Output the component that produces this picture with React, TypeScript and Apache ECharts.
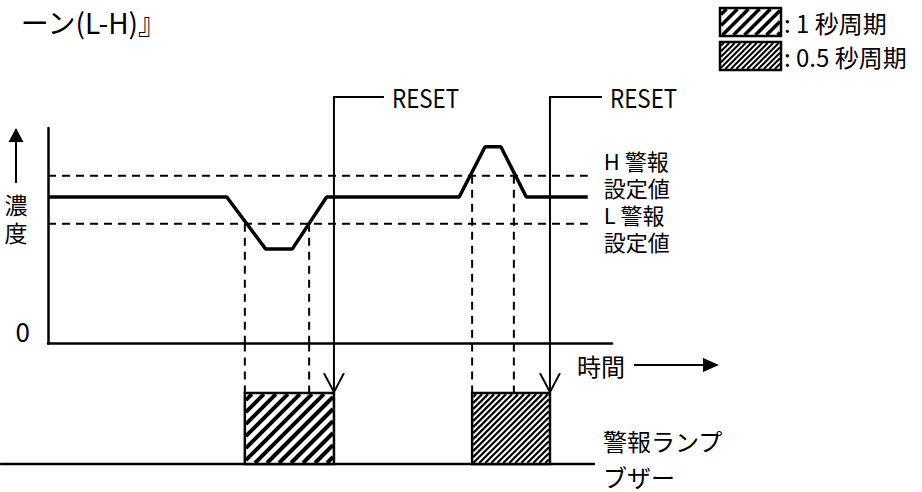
import React, { useEffect, useRef } from 'react';
import * as echarts from 'echarts';

const FONT = '"Noto Sans CJK JP", "Noto Sans", sans-serif';

// concentration trace (time units 0..100, concentration 0..100)
const traceTime = [0, 31.7, 38.6, 43.3, 49.4, 72.9, 77.5, 80.3, 84.8, 95.7];
const traceValue = [68, 68, 43.8, 43.8, 68, 68, 91.3, 91.3, 68, 68];

// alarm set points
const thresholdNames = ['H 警報\n設定値', 'L 警報\n設定値'];
const thresholdValues = [77.9, 55.6];
const thresholdEnd = 95.7;

// alarm events (first: L alarm, second: H alarm)
const alarmThreshold = [55.6, 77.9];
const alarmStart = [34.9, 75.2];
const alarmClear = [46.3, 82.6];
const resetTime = [50.7, 89.0];
const resetLevel = 114.4;
const lampOn = 1;
const lampLineStart = -8.5;
const lampLineEnd = 97.0;

const legendLabels = [': 1 秒周期', ': 0.5 秒周期'];

// styles (not data)
const hatchStep = [12, 6];
const hatchWidth = [4, 2.2];
const resetLeader = [50, 52];
const thresholdLabelShift = [-2, 4];

function hatchLines(x0: number, y0: number, x1: number, y1: number, step: number, lw: number) {
  const out: any[] = [];
  for (let c = x0 + y0 + step * 0.5; c < x1 + y1; c += step) {
    const xa = Math.max(x0, c - y1);
    const xb = Math.min(x1, c - y0);
    if (xb - xa > 0.3) {
      out.push({ type: 'line', shape: { x1: xa, y1: c - xa, x2: xb, y2: c - xb }, style: { stroke: '#000', lineWidth: lw } });
    }
  }
  return out;
}

function hatchBox(x: number, y: number, w: number, h: number, step: number, lw: number) {
  return [
    { type: 'rect', shape: { x, y, width: w, height: h }, style: { fill: '#fff' } },
    ...hatchLines(x + 1, y + 1, x + w - 1, y + h - 1, step, lw),
    { type: 'rect', shape: { x, y, width: w, height: h }, style: { fill: 'none', stroke: '#000', lineWidth: 2.5 } },
  ];
}

function buildOption(): any {
  const txt = (text: string, x: number, y: number, size: number, align = 'left', extra: any = {}) => ({
    type: 'text', x, y,
    style: { text, fill: '#000', fontSize: size, fontFamily: FONT, align, verticalAlign: 'middle', ...extra },
  });

  const graphic: any[] = [
    txt('ーン(L-H)』', 166, 22, 28, 'right'),
    { type: 'group', children: hatchBox(720, 8, 61, 28, 11, 3.5) },
    { type: 'group', children: hatchBox(720, 42, 61, 28, 5.5, 2) },
    txt(legendLabels[0], 784, 22, 24),
    txt(legendLabels[1], 784, 56, 24),
    { type: 'line', shape: { x1: 16, y1: 183, x2: 16, y2: 140 }, style: { stroke: '#000', lineWidth: 2 } },
    { type: 'polygon', shape: { points: [[8.5, 142], [16, 128], [23.5, 142]] }, style: { fill: '#000' } },
    txt('濃', 16, 204, 23, 'center'),
    txt('度', 16, 232, 23, 'center'),
    txt('時間', 577, 365, 24),
    { type: 'line', shape: { x1: 634, y1: 365, x2: 706, y2: 365 }, style: { stroke: '#000', lineWidth: 2 } },
    { type: 'polygon', shape: { points: [[703, 358], [719, 365], [703, 372]] }, style: { fill: '#000' } },
    txt('警報ランプ', 603, 440, 24),
    txt('ブザー', 603, 476, 24),
  ];

  const series: any[] = [];

  thresholdValues.forEach((v, i) => {
    series.push({
      type: 'line', xAxisIndex: 0, yAxisIndex: 0, silent: true, symbol: 'none',
      data: [[0, v], [thresholdEnd, v]],
      lineStyle: { color: '#000', width: 2, type: [8, 6] },
      endLabel: {
        show: true, formatter: thresholdNames[i], color: '#000', fontSize: 22, lineHeight: 27,
        fontFamily: FONT, distance: 16, offset: [0, thresholdLabelShift[i]],
      },
    });
  });

  series.push({
    type: 'line', xAxisIndex: 0, yAxisIndex: 0, silent: true, symbol: 'none',
    data: traceTime.map((t, i) => [t, traceValue[i]]),
    lineStyle: { color: '#000', width: 3.5 },
  });

  // vertical dashed guides (upper part)
  const guideData: number[][] = [];
  alarmStart.forEach((t, i) => { guideData.push([t, alarmThreshold[i]]); guideData.push([alarmClear[i], alarmThreshold[i]]); });
  series.push({
    type: 'custom', xAxisIndex: 0, yAxisIndex: 0, silent: true, clip: false,
    data: guideData,
    renderItem: (_p: any, api: any) => {
      const a = api.coord([api.value(0), api.value(1)]);
      const b = api.coord([api.value(0), 0]);
      return { type: 'line', shape: { x1: a[0], y1: a[1], x2: b[0], y2: b[1] }, style: { stroke: '#000', lineWidth: 2, lineDash: [8, 6] } };
    },
  });
  // vertical dashed guides (lower part)
  series.push({
    type: 'custom', xAxisIndex: 1, yAxisIndex: 1, silent: true, clip: false,
    data: guideData.map((d) => [d[0], lampOn]),
    renderItem: (_p: any, api: any) => {
      const a = api.coord([api.value(0), 1.7]);
      const b = api.coord([api.value(0), api.value(1)]);
      return { type: 'line', shape: { x1: a[0], y1: a[1], x2: b[0], y2: b[1] }, style: { stroke: '#000', lineWidth: 2, lineDash: [8, 6] } };
    },
  });

  // RESET (upper part)
  series.push({
    type: 'custom', xAxisIndex: 0, yAxisIndex: 0, silent: true, clip: false,
    data: resetTime.map((t, i) => [t, resetLevel, i]),
    renderItem: (_p: any, api: any) => {
      const i = api.value(2);
      const a = api.coord([api.value(0), api.value(1)]);
      const b = api.coord([api.value(0), 0]);
      const len = resetLeader[i];
      return {
        type: 'group',
        children: [
          { type: 'line', shape: { x1: a[0], y1: a[1], x2: b[0], y2: b[1] }, style: { stroke: '#000', lineWidth: 2 } },
          { type: 'line', shape: { x1: a[0] - 1, y1: a[1], x2: a[0] + len, y2: a[1] }, style: { stroke: '#000', lineWidth: 2 } },
          {
            type: 'text', x: a[0] + len + 8, y: a[1], scaleX: 0.86,
            style: { text: 'RESET', fill: '#000', fontSize: 26, fontFamily: FONT, align: 'left', verticalAlign: 'middle' },
          },
        ],
      };
    },
  });
  // RESET arrow (lower part)
  series.push({
    type: 'custom', xAxisIndex: 1, yAxisIndex: 1, silent: true, clip: false,
    data: resetTime.map((t) => [t, lampOn]),
    renderItem: (_p: any, api: any) => {
      const a = api.coord([api.value(0), 1.7]);
      const b = api.coord([api.value(0), api.value(1)]);
      const tip = b[1] - 1;
      return {
        type: 'group',
        children: [
          { type: 'line', shape: { x1: a[0], y1: a[1], x2: b[0], y2: tip }, style: { stroke: '#000', lineWidth: 2 } },
          { type: 'polyline', shape: { points: [[b[0] - 10, tip - 19], [b[0], tip], [b[0] + 10, tip - 19]] }, style: { stroke: '#000', lineWidth: 2, fill: 'none' } },
        ],
      };
    },
  });

  // lamp baseline
  series.push({
    type: 'custom', xAxisIndex: 1, yAxisIndex: 1, silent: true, clip: false,
    data: [[lampLineStart, lampLineEnd, 0]],
    renderItem: (_p: any, api: any) => {
      const a = api.coord([api.value(0), api.value(2)]);
      const b = api.coord([api.value(1), api.value(2)]);
      return { type: 'line', shape: { x1: a[0], y1: a[1], x2: b[0], y2: b[1] }, style: { stroke: '#000', lineWidth: 2.5 } };
    },
  });

  // lamp / buzzer boxes
  series.push({
    type: 'custom', xAxisIndex: 1, yAxisIndex: 1, silent: true, clip: false,
    data: alarmStart.map((s, i) => [s, resetTime[i], lampOn, i]),
    renderItem: (_p: any, api: any) => {
      const i = api.value(3);
      const p0 = api.coord([api.value(0), api.value(2)]);
      const p1 = api.coord([api.value(1), 0]);
      return { type: 'group', children: hatchBox(p0[0], p0[1], p1[0] - p0[0], p1[1] - p0[1], hatchStep[i], hatchWidth[i]) };
    },
  });

  return {
    animation: false,
    backgroundColor: '#fff',
    grid: [
      { left: 48, top: 128, width: 564, height: 215.5 },
      { left: 48, top: 343.5, width: 564, height: 120.5 },
    ],
    xAxis: [
      {
        gridIndex: 0, type: 'value', min: 0, max: 100,
        axisLine: { show: true, lineStyle: { color: '#000', width: 2.5 } },
        axisTick: { show: false }, axisLabel: { show: false }, splitLine: { show: false },
      },
      { gridIndex: 1, type: 'value', min: 0, max: 100, show: false },
    ],
    yAxis: [
      {
        gridIndex: 0, type: 'value', min: 0, max: 100, interval: 100,
        axisLine: { show: true, onZero: false, lineStyle: { color: '#000', width: 2.5 } },
        axisTick: { show: false }, splitLine: { show: false },
        axisLabel: {
          formatter: (v: number) => (v === 0 ? '0' : ''), color: '#000', fontSize: 26,
          fontFamily: FONT, margin: 18, verticalAlign: 'bottom',
        },
      },
      { gridIndex: 1, type: 'value', min: 0, max: 1.7, show: false },
    ],
    graphic,
    series,
  };
}

export default function App() {
  const ref = useRef<HTMLDivElement>(null);
  useEffect(() => {
    const chart = echarts.init(ref.current!, null, { renderer: 'svg' });
    chart.setOption(buildOption());
    return () => chart.dispose();
  }, []);
  return (
    <div
      ref={ref}
      style={{ position: 'fixed', left: 0, top: 0, width: 922, height: 492, background: '#fff' }}
    />
  );
}
